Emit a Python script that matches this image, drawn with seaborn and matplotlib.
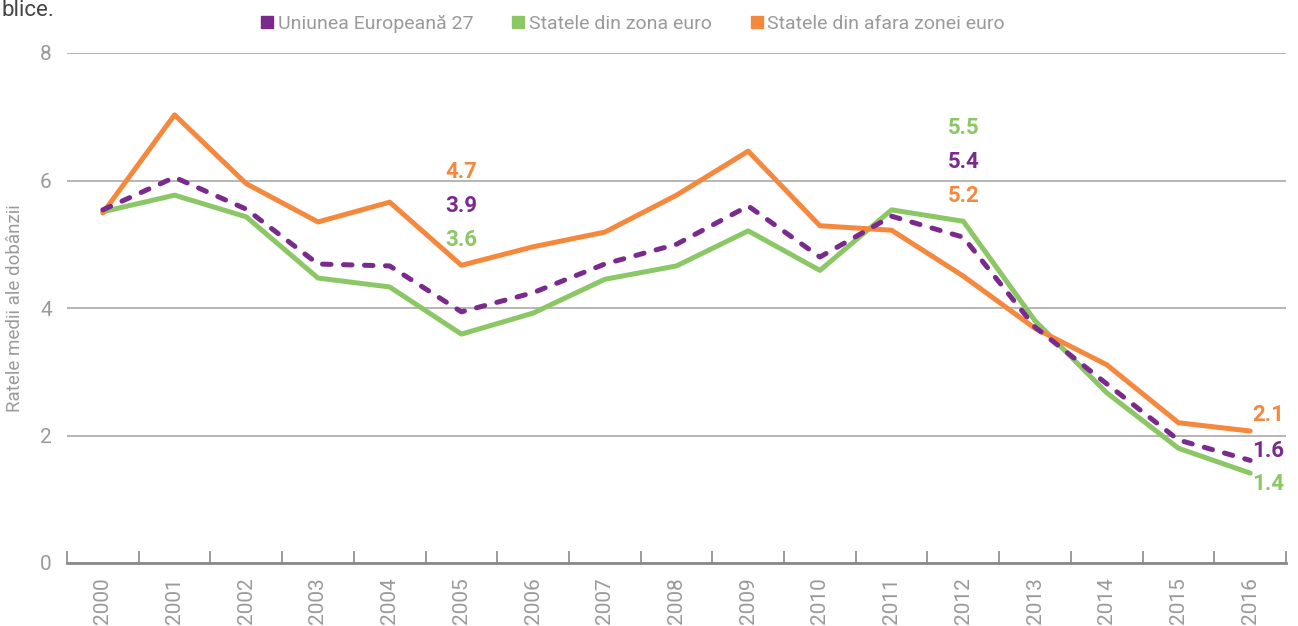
import matplotlib
matplotlib.use("Agg")
import matplotlib.pyplot as plt
from matplotlib.lines import Line2D
import numpy as np
import pandas as pd
import seaborn as sns

# data (average interest rates)
years = [str(y) for y in range(2000, 2017)]
eu27 = [5.54, 6.05, 5.55, 4.69, 4.66, 3.94, 4.24, 4.69, 5.00, 5.60,
        4.80, 5.44, 5.11, 3.70, 2.81, 1.93, 1.61]
euro = [5.51, 5.77, 5.43, 4.47, 4.33, 3.59, 3.92, 4.45, 4.66, 5.21,
        4.59, 5.54, 5.36, 3.80, 2.67, 1.80, 1.41]
non_euro = [5.49, 7.03, 5.95, 5.35, 5.66, 4.67, 4.96, 5.19, 5.77, 6.46,
            5.29, 5.22, 4.50, 3.68, 3.11, 2.20, 2.07]
names = ["Uniunea Europeană 27", "Statele din zona euro",
         "Statele din afara zonei euro"]

PURPLE = "#7a2a8c"
GREEN = "#8bc765"
ORANGE = "#f5883d"
GREY = "#9a9a9a"

sns.set_style("white")
plt.rcParams['font.family'] = ['Roboto', 'DejaVu Sans']

df = pd.DataFrame({"an": np.arange(len(years)), "eu27": eu27,
                   "euro": euro, "non_euro": non_euro})

fig = plt.figure(figsize=(12.98, 6.26), dpi=100)
ax = fig.add_axes([67 / 1298, 1 - 563 / 626, 1219 / 1298, 510 / 626])

sns.lineplot(data=df, x="an", y="euro", color=GREEN, lw=3.6, ax=ax,
             solid_capstyle="round", zorder=3)
sns.lineplot(data=df, x="an", y="non_euro", color=ORANGE, lw=3.6, ax=ax,
             solid_capstyle="round", zorder=4)
l = sns.lineplot(data=df, x="an", y="eu27", color=PURPLE, lw=3.6, ax=ax,
                 zorder=5)
l.lines[-1].set_dashes((1.7, 2.5))
l.lines[-1].set_dash_capstyle("round")

ax.set_xlim(-0.5, len(years) - 0.5)
ax.set_ylim(0, 8)
ax.set_yticks([0, 2, 4, 6, 8])
ax.set_xticks(range(len(years)))
ax.set_xticklabels(years, rotation=90)
ax.set_xticks(np.arange(-0.5, len(years)), minor=True)
ax.tick_params(axis="x", which="major", length=0, pad=10, labelsize=15,
               labelcolor=GREY)
ax.tick_params(axis="x", which="minor", direction="in", length=8.5,
               width=1.2, color="#8a8a8a", bottom=True)
ax.tick_params(axis="y", length=0, pad=11, labelsize=15, labelcolor=GREY)
ax.yaxis.grid(True, color="#b0b0b0", lw=1.3)
ax.set_axisbelow(True)
for s in ["left", "right", "top"]:
    ax.spines[s].set_visible(False)
ax.spines["bottom"].set_color("#8a8a8a")
ax.spines["bottom"].set_linewidth(2)
ax.set_xlabel("")
ax.set_ylabel("Ratele medii ale dobânzii", fontsize=13.5, color=GREY)
ax.yaxis.set_label_coords(-0.035, 0.5)

series = [(eu27, PURPLE), (euro, GREEN), (non_euro, ORANGE)]

# stacked value labels above the lines
def stack(pos, src):
    top = max(v[pos] for v, c in series)
    order = sorted(series, key=lambda s: s[0][src])
    for k, (v, c) in enumerate(order):
        ax.annotate(f"{v[src]:.1f}", xy=(pos, top), xytext=(0, 18 + 24.5 * k),
                    textcoords="offset points", ha="center", va="center",
                    fontsize=16, fontweight="bold", color=c)

stack(5, 5)
stack(12, 11)

# end labels
last = len(years) - 1
for (v, c), dy in zip(series, [7, -8, 11.5]):
    ax.annotate(f"{v[last]:.1f}", xy=(last, v[last]), xytext=(13, dy),
                textcoords="offset points", ha="center", va="center",
                fontsize=16, fontweight="bold", color=c)

handles = [Line2D([], [], ls="", marker="s", ms=9, color=c) for c in
           [PURPLE, GREEN, ORANGE]]
fig.legend(handles, names, loc="center", bbox_to_anchor=(0.487, 1 - 24 / 626),
           ncol=3, frameon=False, fontsize=14, labelcolor=GREY,
           handletextpad=0.15, columnspacing=1.9, handlelength=0.8)

fig.text(0.001, 1 - 10 / 626, "blice.", fontsize=16, color="#444444",
         va="center", ha="left")

fig.savefig("out.png", dpi=100)
plt.close()
